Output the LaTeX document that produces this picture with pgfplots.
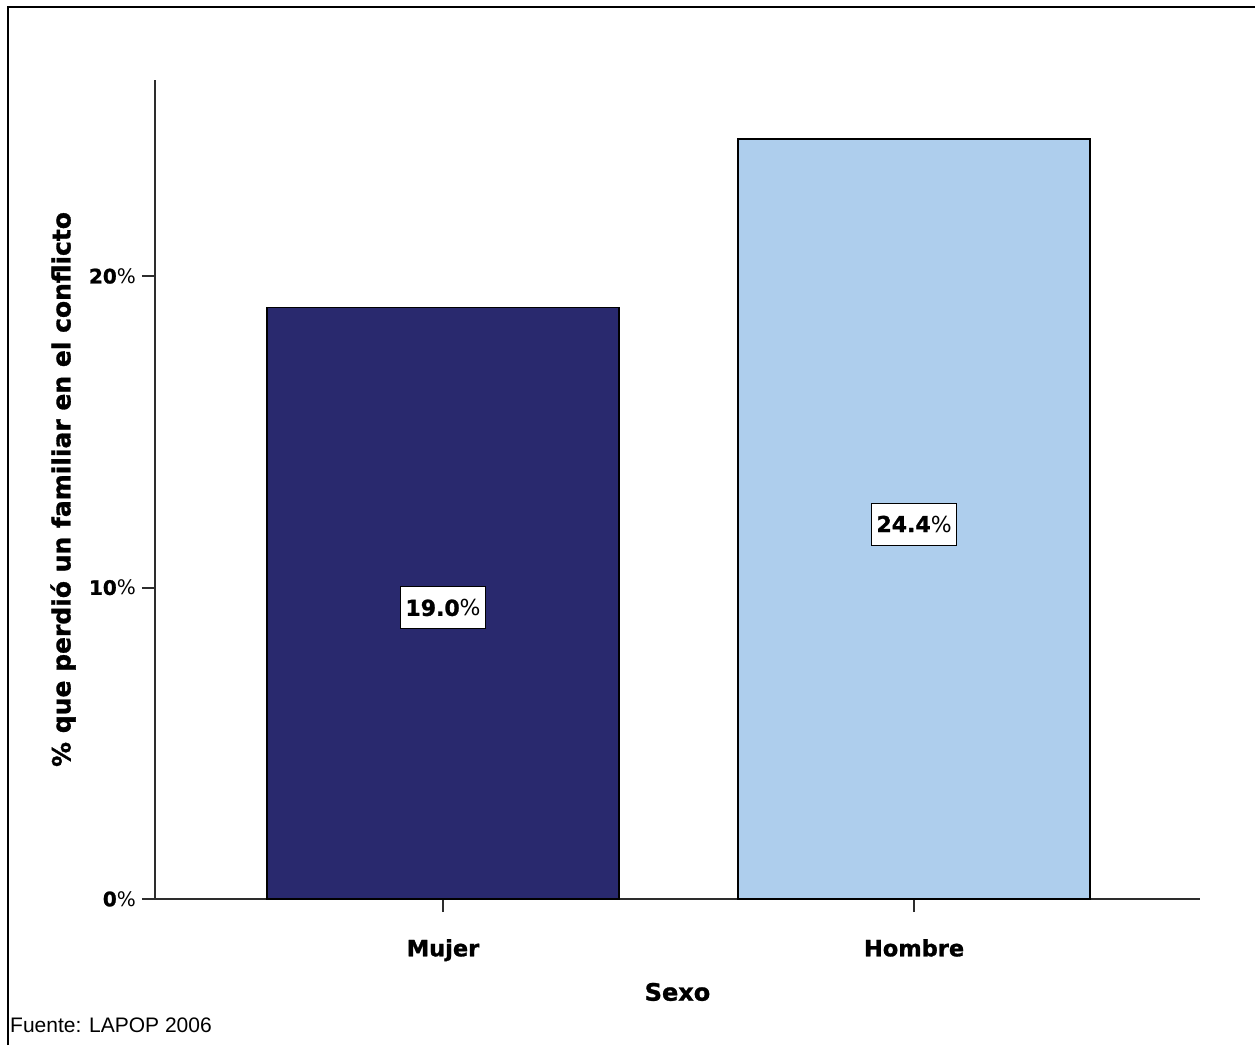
\documentclass[border=0pt]{standalone}
\usepackage{fontspec}
\setmainfont{DejaVu Sans}[BoldFont={DejaVu Sans Bold}, BoldFeatures={FakeBold=1.2}]
\newfontfamily\arialf{Liberation Sans}
\usepackage{pgfplots}
\pgfplotsset{compat=1.18}
\definecolor{navy}{RGB}{41,41,110}
\definecolor{lblue}{RGB}{174,206,237}
\definecolor{axgray}{RGB}{45,45,45}
\begin{document}
\begin{tikzpicture}
\begin{axis}[
 scale only axis, width=1045pt, height=819pt,
 xmin=-0.6115, xmax=1.607, ymin=0, ymax=26.3,
 axis lines=left, axis line style={-, line width=2.5pt, color=axgray},
 ytick={0,10,20}, yticklabels={{\textbf{0}\%},{\textbf{10}\%},{\textbf{20}\%}},
 xtick={0,1}, xticklabels={Mujer,Hombre},
 tick align=outside, major tick length=13pt,
 tick style={line width=2pt, color=axgray},
 yticklabel style={font=\fontsize{20}{24}\selectfont, inner sep=0pt, xshift=-6pt},
 xticklabel style={font=\fontsize{22.5}{27}\selectfont\bfseries, inner sep=0pt, yshift=-27pt},
 xlabel={Sexo},
 xlabel style={font=\fontsize{24}{28}\selectfont\bfseries, at={(axis description cs:0.5,-0.1135)}, anchor=center},
 ylabel={\% que perdió un familiar en el conflicto},
 ylabel style={font=\fontsize{25}{29}\selectfont\bfseries, at={(axis description cs:-0.088,0.5)}, anchor=center},
 clip=false,
]
\addplot[ybar, bar width=352pt, bar shift=0pt, fill=navy, draw=black, line width=1.5pt] coordinates {(0,19.0)};
\addplot[ybar, bar width=352pt, bar shift=0pt, fill=lblue, draw=black, line width=1.5pt] coordinates {(1,24.4)};
\addplot[draw=none, mark=none, nodes near coords, point meta=explicit symbolic,
  every node near coord/.append style={anchor=center, fill=white, draw=black, line width=1pt,
  minimum height=42pt, inner xsep=5pt, font=\fontsize{22}{26}\selectfont, text=black}]
  coordinates {(0,9.35) [\textbf{19.0}\%] (1,12.04) [\textbf{24.4}\%]};
\end{axis}
\draw[line width=2.5pt] (-147pt,-146pt) -- (-147pt,892pt) -- (1100pt,892pt);
\node[anchor=base west, inner sep=0pt, font=\arialf\fontsize{21}{25}\selectfont] at (-145pt,-133pt) {Fuente: LAPOP 2006};
\pgfresetboundingbox
\useasboundingbox (-155pt,-146pt) rectangle (1100pt,899pt);
\end{tikzpicture}
\end{document}
